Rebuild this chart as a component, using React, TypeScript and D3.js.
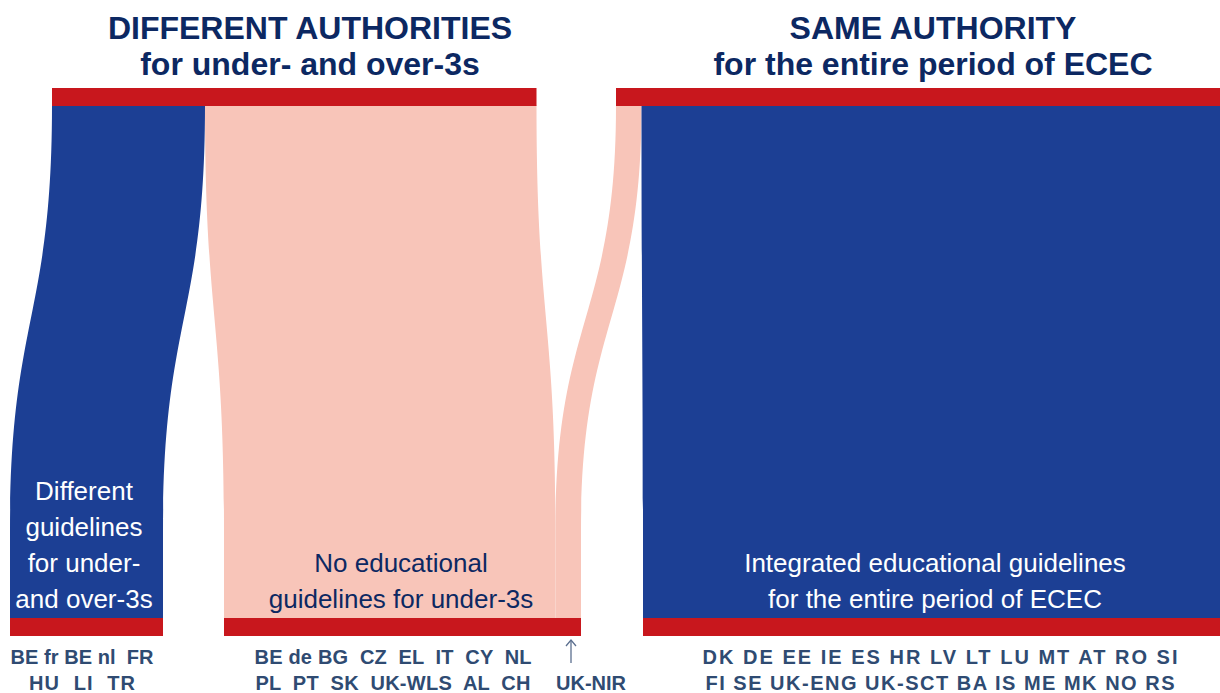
import React from "react";
import * as d3 from "d3";

// ---- data ----
const authorityTitles = ["DIFFERENT AUTHORITIES", "SAME AUTHORITY"];
const authoritySubtitles = ["for under- and over-3s", "for the entire period of ECEC"];
const guidelineLabels = [
  ["Different", "guidelines", "for under-", "and over-3s"],
  ["No educational", "guidelines for under-3s"],
  ["Integrated educational guidelines", "for the entire period of ECEC"],
];
const flowSource = [0, 0, 1, 1];
const flowTarget = [0, 1, 1, 2];
const flowValue = [6, 13, 1, 23];
const flowKind = ["guidelines", "none", "none", "guidelines"];
const countriesDifferent = [["BE fr", "BE nl", " FR"], ["HU", " LI", " TR"]];
const countriesNone = [
  ["BE de", "BG ", "CZ ", "EL ", "IT ", "CY ", "NL"],
  ["PL ", "PT ", "SK ", "UK-WLS ", "AL ", "CH"],
];
const countriesIntegrated = [
  ["DK", "DE", "EE", "IE", "ES", "HR", "LV", "LT", "LU", "MT", "AT", "RO", "SI"],
  ["FI", "SE", "UK-ENG", "UK-SCT", "BA", "IS", "ME", "MK", "NO", "RS"],
];
const arrowCountry = "UK-NIR";

// ---- layout ----
const W = 1220, H = 693;
const RED = "#c8171d", BLUE = "#1c3f94", PINK = "#f8c5b9";
const NAVY = "#0c2862", SLATE = "#2f4b72";
const FONT = "'Liberation Sans', Arial, Helvetica, sans-serif";
const topX = [52, 616];
const bottomX = [10, 224, 643];
const topY0 = 88, topY1 = 106;
const botY0 = 618, botY1 = 636;
const curveStart = 106, curveEnd = 530;

const unit = d3.scaleLinear().domain([0, 1]).range([0, 25.5]);

function ribbon(xt0: number, xt1: number, xb0: number, xb1: number) {
  const p = d3.path();
  const ym = (curveStart + curveEnd) / 2;
  p.moveTo(xt0, topY1 - 1);
  p.lineTo(xt0, curveStart);
  p.bezierCurveTo(xt0, ym, xb0, ym, xb0, curveEnd);
  p.lineTo(xb0, botY0 + 1);
  p.lineTo(xb1, botY0 + 1);
  p.lineTo(xb1, curveEnd);
  p.bezierCurveTo(xb1, ym, xt1, ym, xt1, curveStart);
  p.lineTo(xt1, topY1 - 1);
  p.closePath();
  return p.toString();
}

export default function App() {
  const topTotals = [0, 0];
  const botTotals = [0, 0, 0];
  flowValue.forEach((v, i) => {
    topTotals[flowSource[i]] += v;
    botTotals[flowTarget[i]] += v;
  });
  const topOff = [0, 0];
  const botOff = [0, 0, 0];
  const flows = flowValue.map((v, i) => {
    const s = flowSource[i], t = flowTarget[i];
    const xt0 = topX[s] + unit(topOff[s]);
    const xb0 = bottomX[t] + unit(botOff[t]);
    topOff[s] += v;
    botOff[t] += v;
    return {
      d: ribbon(xt0, xt0 + unit(v), xb0, xb0 + unit(v)),
      color: flowKind[i] === "guidelines" ? BLUE : PINK,
    };
  });

  const titleX = [310, 933];
  const labelX = [84, 401, 935];
  const labelColors = ["#ffffff", NAVY, "#ffffff"];
  const labelBase = [500, 572, 572];

  const rowDefs = [
    { rows: countriesDifferent, cx: 82, widths: [143, 106] },
    { rows: countriesNone, cx: 393, widths: [277, 275] },
    { rows: countriesIntegrated, cx: 940, widths: [475, 469] },
  ];

  return (
    <svg width={W} height={H} style={{ position: "absolute", left: 0, top: 0, background: "#fff" }} fontFamily={FONT}>
      {/* flows */}
      {flows.map((f, i) => (
        <path key={i} d={f.d} fill={f.color} />
      ))}
      {/* top nodes */}
      {topTotals.map((v, i) => (
        <rect key={"t" + i} x={topX[i]} y={topY0} width={unit(v)} height={topY1 - topY0} fill={RED} />
      ))}
      {/* bottom nodes */}
      {botTotals.map((v, i) => (
        <rect key={"b" + i} x={bottomX[i]} y={botY0} width={unit(v)} height={botY1 - botY0} fill={RED} />
      ))}
      {/* titles */}
      {authorityTitles.map((t, i) => (
        <g key={"title" + i} fill={NAVY} fontWeight="bold" fontSize={32} textAnchor="middle">
          <text x={titleX[i]} y={39}>{t}</text>
          <text x={titleX[i]} y={75}>{authoritySubtitles[i]}</text>
        </g>
      ))}
      {/* group labels */}
      {guidelineLabels.map((lines, i) => (
        <g key={"gl" + i} fill={labelColors[i]} fontSize={26} textAnchor="middle">
          {lines.map((l, j) => (
            <text key={j} x={labelX[i]} y={labelBase[i] + j * 36}>{l}</text>
          ))}
        </g>
      ))}
      {/* country lists */}
      {rowDefs.map((g, i) => (
        <g key={"c" + i} fill={SLATE} fontWeight="bold" fontSize={20} textAnchor="middle">
          {g.rows.map((r, j) => (
            <text
              key={j}
              x={g.cx}
              y={664 + j * 26}
              textLength={g.widths[j]}
              lengthAdjust="spacing"
              style={{ whiteSpace: "pre" }}
            >
              {r.join(" ")}
            </text>
          ))}
        </g>
      ))}
      {/* UK-NIR arrow */}
      <g stroke="#5b6f8f" strokeWidth={1.3} fill="none">
        <line x1={571} y1={640} x2={571} y2={663} />
        <polyline points="566,646 571,640 576,646" />
      </g>
      <text x={591} y={690} fill={SLATE} fontWeight="bold" fontSize={20} textAnchor="middle">
        {arrowCountry}
      </text>
    </svg>
  );
}
